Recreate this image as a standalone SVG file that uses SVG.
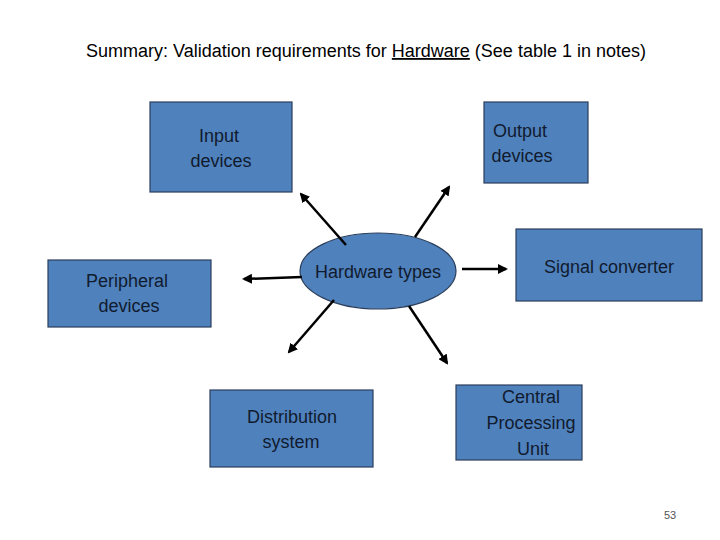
<svg xmlns="http://www.w3.org/2000/svg" width="720" height="540" viewBox="0 0 720 540">
<style>
.b{fill:#4f81bd;stroke:#2b3f5c;stroke-width:1.2}
text{font-family:"Liberation Sans","Open Sans",sans-serif;font-size:18px;fill:#111b2e;text-anchor:middle}
.c line{stroke:#000;stroke-width:2.5;marker-end:url(#a)}
</style>
<defs><marker id="a" viewBox="0 0 10 10" refX="8" refY="5" markerWidth="4" markerHeight="4" orient="auto"><path d="M0,0L10,5L0,10z" fill="#000"/></marker></defs>
<rect width="720" height="540" fill="#fff"/>
<text x="366" y="57" style="font-size:18px;fill:#000">Summary: Validation requirements for <tspan text-decoration="underline">Hardware</tspan> (See table 1 in notes)</text>
<g id="input"><rect class="b" x="150" y="102" width="142" height="90"/><text x="219" y="142">Input</text><text x="221" y="167">devices</text></g>
<g id="output"><rect class="b" x="484" y="102" width="104" height="81"/><text x="520" y="137">Output</text><text x="522" y="162">devices</text></g>
<g id="peripheral"><rect class="b" x="48" y="260" width="163" height="67"/><text x="127" y="287">Peripheral</text><text x="129" y="312">devices</text></g>
<g id="signal"><rect class="b" x="516" y="229" width="186" height="72"/><text x="609" y="273">Signal converter</text></g>
<g id="distribution"><rect class="b" x="210" y="390" width="163" height="77"/><text x="292" y="423">Distribution</text><text x="291" y="448">system</text></g>
<g id="cpu"><rect class="b" x="456" y="385" width="126" height="75"/><text x="531" y="403">Central</text><text x="531" y="429">Processing</text><text x="533" y="455">Unit</text></g>
<g id="hw"><ellipse class="b" cx="378" cy="271" rx="78" ry="38"/><text x="378" y="278">Hardware types</text></g>
<g class="c">
<line x1="346" y1="245" x2="301" y2="194"/>
<line x1="415" y1="237" x2="449" y2="187"/>
<line x1="302" y1="277" x2="244" y2="279"/>
<line x1="462" y1="269" x2="506" y2="269"/>
<line x1="334" y1="300" x2="289" y2="352"/>
<line x1="409" y1="306" x2="447" y2="363"/>
</g>
<text x="670" y="519" style="font-size:11px;fill:#555">53</text>
</svg>
